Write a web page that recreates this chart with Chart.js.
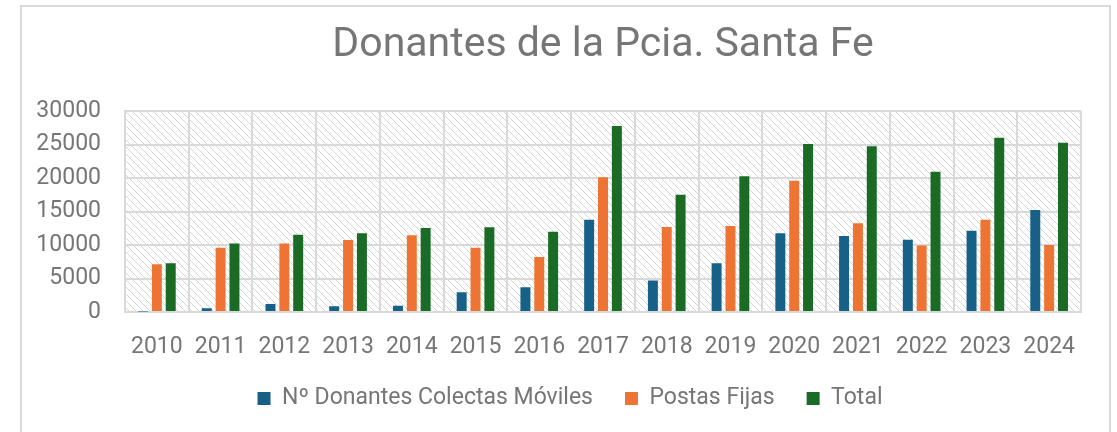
<!DOCTYPE html>
<html lang="es">
<head>
  <meta charset="UTF-8">
  <title>Donantes de la Pcia. Santa Fe</title>
  <script src="https://cdn.jsdelivr.net/npm/chart.js"></script>
  <style>
    html, body {
      margin: 0;
      padding: 0;
      background: #ffffff;
      overflow: hidden;
    }
    .frame {
      position: absolute;
      left: 20px;
      top: 5px;
      width: 1087px;
      height: 460px;
      border: 2px solid #d9d9d9;
    }
    .wrap {
      position: absolute;
      left: 0;
      top: 0;
      width: 1117px;
      height: 432px;
    }
  </style>
</head>
<body>
  <div class="frame"></div>
  <div class="wrap"><canvas id="chart" width="1117" height="432"></canvas></div>

<script>
const years = ["2010", "2011", "2012", "2013", "2014", "2015", "2016", "2017",
               "2018", "2019", "2020", "2021", "2022", "2023", "2024"];
const colectasMoviles = [60, 550, 1200, 850, 950, 2950, 3700, 13800, 4700, 7300, 11750, 11350, 10800, 12150, 15250];
const postasFijas = [7150, 9600, 10250, 10750, 11450, 9600, 8200, 20150, 12700, 12850, 19600, 13250, 9950, 13800, 10000];
const totales = [7300, 10250, 11550, 11750, 12550, 12650, 12000, 27800, 17500, 20300, 25100, 24750, 20950, 26050, 25300];

const textGray = "#767676";
const gridGray = "#d9d9d9";
const fontName = "Roboto, 'Noto Sans', sans-serif";

// diagonal hatch behind the plot area
function makeHatch() {
  const c = document.createElement("canvas");
  c.width = 7; c.height = 7;
  const g = c.getContext("2d");
  g.fillStyle = "#d6d6d6";
  for (let i = 0; i < 7; i++) g.fillRect(i, i, 1, 1);
  return g.createPattern(c, "repeat");
}

const hatchPlugin = {
  id: "hatch",
  beforeDraw(chart) {
    const a = chart.chartArea;
    const ctx = chart.ctx;
    ctx.save();
    ctx.fillStyle = makeHatch();
    ctx.fillRect(a.left, a.top, a.right - a.left, a.bottom - a.top);
    ctx.restore();
  }
};

const ctx = document.getElementById("chart").getContext("2d");
new Chart(ctx, {
  type: "bar",
  data: {
    labels: years,
    datasets: [
      { label: "Nº Donantes Colectas Móviles", data: colectasMoviles, backgroundColor: "#176087" },
      { label: "Postas Fijas", data: postasFijas, backgroundColor: "#ed7433" },
      { label: "Total", data: totales, backgroundColor: "#1a6b26" }
    ]
  },
  options: {
    responsive: false,
    animation: false,
    layout: { padding: { top: 0, left: 30, right: 7, bottom: 12 } },
    datasets: { bar: { categoryPercentage: 0.652, barPercentage: 0.72 } },
    plugins: {
      title: {
        display: true,
        text: "Donantes de la Pcia. Santa Fe",
        color: textGray,
        fullSize: false,
        font: { family: fontName, size: 41, weight: "normal" },
        padding: { top: 21, bottom: 41 }
      },
      legend: {
        position: "bottom",
        labels: {
          color: textGray,
          boxWidth: 13,
          boxHeight: 13,
          padding: 32,
          font: { family: fontName, size: 23 }
        }
      },
      tooltip: { enabled: false }
    },
    scales: {
      x: {
        grid: { color: gridGray, lineWidth: 2, drawTicks: false, offset: true },
        border: { color: gridGray, width: 2 },
        ticks: { color: textGray, padding: 21, font: { family: fontName, size: 23 } },
        afterFit(scale) { scale.height = 43; }
      },
      y: {
        min: 0,
        max: 30000,
        grid: { color: gridGray, lineWidth: 2, drawTicks: false },
        border: { color: gridGray, width: 2 },
        ticks: {
          stepSize: 5000,
          color: textGray,
          padding: 24,
          font: { family: fontName, size: 23 },
          callback: v => String(v)
        },
        afterFit(scale) { scale.width = 95; }
      },
      // empty right-hand axis, only keeps the plot's right edge in place
      spacer: {
        position: "right",
        grid: { display: false },
        border: { display: false },
        ticks: { display: false },
        afterFit(scale) { scale.width = 29; }
      }
    }
  },
  plugins: [hatchPlugin]
});
</script>
</body>
</html>
